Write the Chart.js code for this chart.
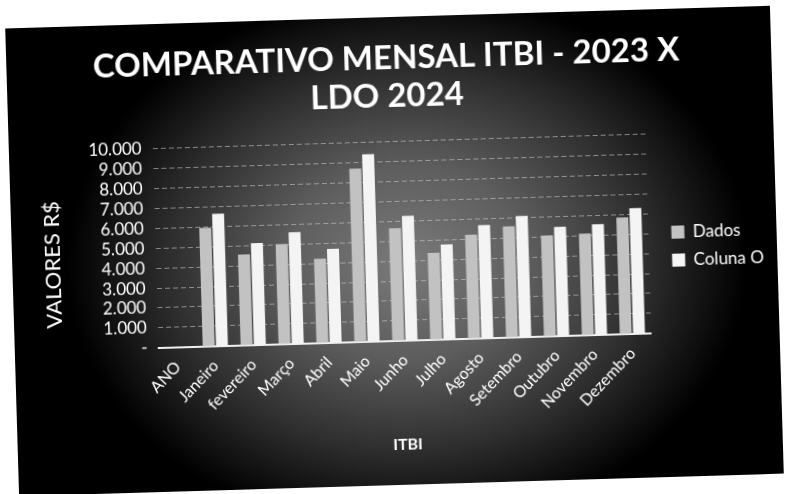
<!DOCTYPE html>
<html><head><meta charset="utf-8">
<script src="https://cdn.jsdelivr.net/npm/chart.js@4.4.1/dist/chart.umd.min.js"></script>
<style>
html,body{margin:0;padding:0;background:#fff;width:786px;height:494px;overflow:hidden;}
#panel{position:absolute;left:11.5px;top:16.5px;width:765px;height:468px;transform:rotate(-1.7deg);transform-origin:50% 50%;
background: radial-gradient(ellipse 340px 270px at 395px 245px, #7a7a7a 0%, #5e5e5e 35%, #2e2e2e 70%, #000 100%);}
canvas{display:block;}
</style></head><body>
<div id="panel"><canvas id="c" width="765" height="468"></canvas></div>
<script>
const categories = ['ANO','Janeiro','fevereiro','Março','Abril','Maio','Junho','Julho','Agosto','Setembro','Outubro','Novembro','Dezembro'];
const dados   = [null, 5940, 4560, 5020, 4230, 8690, 5650, 4350, 5200, 5570, 5060, 5090, 5840];
const colunaO = [null, 6630, 5110, 5600, 4700, 9390, 6240, 4760, 5670, 6070, 5470, 5540, 6300];
const yTickLabels = ['-','1.000','2.000','3.000','4.000','5.000','6.000','7.000','8.000','9.000','10.000'];
const titleLines = ['COMPARATIVO MENSAL ITBI - 2023 X','LDO 2024'];
const seriesNames = ['Dados','Coluna O'];

Chart.defaults.font.family = 'Lato';
Chart.defaults.color = '#fff';

const legendShift = {
  id: 'legendShift',
  afterLayout(chart) {
    const l = chart.legend;
    if (!l) return;
    l.left += 12; l.right += 12; l.top += 19; l.bottom += 19;
  }
};

new Chart(document.getElementById('c'), {
  type: 'bar',
  data: {
    labels: categories,
    datasets: [
      { label: seriesNames[0], data: dados, backgroundColor: '#c2c2c2', borderWidth: 0 },
      { label: seriesNames[1], data: colunaO, backgroundColor: '#f4f4f4', borderWidth: 0 }
    ]
  },
  options: {
    responsive: false,
    animation: false,
    layout: { padding: { left: 10, right: 15.5, top: 0, bottom: 31 } },
    datasets: { bar: { categoryPercentage: 0.7, barPercentage: 0.9 } },
    plugins: {
      title: {
        display: true, text: titleLines, color: '#fff',
        font: { size: 33, weight: 'bold', lineHeight: 1.15 },
        padding: { top: 22.4, bottom: 26 }
      },
      legend: {
        position: 'right', align: 'center',
        labels: { color: '#fff', font: { size: 17 }, boxWidth: 13, boxHeight: 13, padding: 11 }
      },
      tooltip: { enabled: false }
    },
    scales: {
      x: {
        grid: { display: false },
        border: { display: true, color: '#f0f0f0', width: 2 },
        ticks: { color: '#fff', font: { size: 16 }, minRotation: 45, maxRotation: 45, padding: 2, autoSkip: false },
        title: { display: true, text: 'ITBI', color: '#fff', font: { size: 16, weight: 'bold' }, padding: { top: 16, bottom: 0 } }
      },
      y: {
        min: 0, max: 10000,
        grid: { color: 'rgba(200,200,200,0.6)', lineWidth: 1, drawTicks: false },
        border: { display: false, dash: [5,3] },
        ticks: { stepSize: 1000, autoSkip: false, color: '#fff', font: { size: 17 }, padding: 11,
          callback: (v) => yTickLabels[Math.round(v / 1000)] },
        title: { display: true, text: '    VALORES R$', align: 'start', color: '#fff', font: { size: 22 }, padding: { top: 18, bottom: 14 } }
      }
    }
  },
  plugins: [legendShift]
});
</script>
</body></html>
